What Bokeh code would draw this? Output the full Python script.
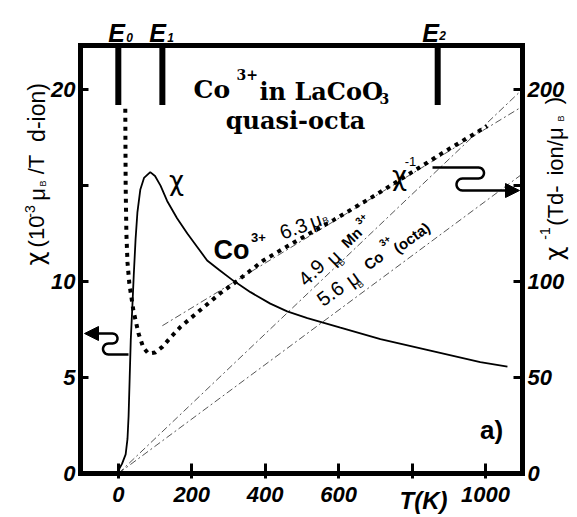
import numpy as np
from bokeh.plotting import figure
from bokeh.models import Range1d, LinearAxis, FixedTicker, Label, Arrow, NormalHead
from bokeh.embed import file_html
from bokeh.resources import INLINE

# ---------------- data ----------------
T_chi = [0, 3, 10, 20, 25, 28, 31, 34, 38, 42, 47, 52, 60, 70, 87, 100, 115, 133, 160, 188,
         215, 242, 275, 313, 360, 414, 460, 515, 605, 714, 850, 986, 1060]
chi = [0.0, 0.26, 0.5, 1.0, 1.8, 3.0, 5.0, 7.0, 8.6, 10.3, 12.2, 13.6, 14.8, 15.4, 15.7, 15.5,
       15.0, 14.2, 13.3, 12.5, 11.8, 11.1, 10.6, 10.05, 9.45, 8.85, 8.45, 8.1, 7.6, 7.0, 6.4,
       5.8, 5.57]

T_inv = [19, 20, 22, 25, 30, 41, 55, 68, 82, 100, 120, 142, 170, 215, 277, 318, 395, 488,
         586, 700, 800, 900, 1005]
chi_inv = [190, 150, 125, 110, 99, 85, 73, 65.6, 62.5, 63, 66, 70.8, 76.5, 83.8, 93.8, 99.5,
           111, 121.5, 132, 145, 157, 169, 181]

T_mn = [0, 1100]        # 4.9 muB Mn3+ Curie line
inv_mn = [0, 200]
T_co = [0, 1100]        # 5.6 muB Co3+ (octa) Curie line
inv_co = [0, 156]
T_cw = [120, 1090]      # 6.3 muB Co3+ Curie-Weiss line
inv_cw = [77, 190]

E_subs = ["0", "1", "2"]
E_T = [0, 120, 870]
E_bar_bottom = 19.2

x_ticks = [0, 200, 400, 600, 800, 1000]
x_labels = ["0", "200", "400", "600", "", "1000"]
yl_ticks = [0, 5, 10, 15, 20]
yl_labels = ["0", "5", "10", "", "20"]
yr_ticks = [0, 50, 100, 150, 200]
yr_labels = ["0", "50", "100", "", "200"]

# ---------------- layout ----------------
W, H = 575, 515
# axes box: data limits and where it sits on the page (pixels)
X_LEFT, X_RIGHT = -103, 1101
Y_BOT, Y_TOP = 0, 22.3
R_SCALE = 10.0                       # right axis = 10 x left axis
BOX_L, BOX_R, BOX_T, BOX_B = 80, 522, 45, 473

KX = (X_RIGHT - X_LEFT) / (BOX_R - BOX_L)
KY = (Y_TOP - Y_BOT) / (BOX_B - BOX_T)
xr = Range1d(X_LEFT - BOX_L * KX, X_RIGHT + (W - BOX_R) * KX)
yr_ = Range1d(Y_BOT - (H - BOX_B) * KY, Y_TOP + BOX_T * KY)

p = figure(width=W, height=H, x_range=xr, y_range=yr_,
           output_backend="svg", toolbar_location=None,
           x_axis_location=None, y_axis_location=None,
           min_border=0, min_border_left=0, min_border_right=0,
           min_border_top=0, min_border_bottom=0)
p.extra_y_ranges = {"inv": Range1d(yr_.start * R_SCALE, yr_.end * R_SCALE)}
p.grid.visible = False
p.outline_line_color = None
p.background_fill_color = "white"
p.border_fill_color = "white"

def dx(px):
    return X_LEFT + (px - BOX_L) * KX
def dy(py):
    return Y_BOT + (BOX_B - py) * KY

TICKFONT = "Liberation Sans"
def style_axis(ax):
    ax.axis_line_color = "black"
    ax.axis_line_width = 5
    ax.axis_line_cap = "square"
    ax.major_tick_line_color = "black"
    ax.major_tick_line_width = 3
    ax.minor_tick_line_color = None
    ax.major_label_text_font = TICKFONT
    ax.major_label_text_font_style = "bold italic"
    ax.major_label_text_font_size = "22px"
    ax.major_label_text_color = "black"

xa = LinearAxis(fixed_location=Y_BOT, bounds=(X_LEFT, X_RIGHT))
style_axis(xa)
xa.ticker = FixedTicker(ticks=x_ticks)
xa.major_label_overrides = {t: l for t, l in zip(x_ticks, x_labels)}
xa.major_tick_in = 10
xa.major_tick_out = 5
xa.major_label_standoff = 8
p.add_layout(xa, "below")

ta = LinearAxis(fixed_location=Y_TOP, bounds=(X_LEFT, X_RIGHT))
style_axis(ta)
ta.ticker = FixedTicker(ticks=[])
ta.major_tick_line_color = None
ta.major_label_text_font_size = "0px"
p.add_layout(ta, "above")

ya = LinearAxis(fixed_location=X_LEFT, bounds=(Y_BOT, Y_TOP))
style_axis(ya)
ya.ticker = FixedTicker(ticks=yl_ticks)
ya.major_label_overrides = {t: l for t, l in zip(yl_ticks, yl_labels)}
ya.major_tick_in = 8
ya.major_tick_out = 0
ya.major_label_standoff = 5
p.add_layout(ya, "left")

yb = LinearAxis(fixed_location=X_RIGHT, y_range_name="inv",
                bounds=(Y_BOT * R_SCALE, Y_TOP * R_SCALE))
style_axis(yb)
yb.ticker = FixedTicker(ticks=yr_ticks)
yb.major_label_overrides = {t: l for t, l in zip(yr_ticks, yr_labels)}
yb.major_tick_in = 9
yb.major_tick_out = 0
yb.major_label_standoff = 5
p.add_layout(yb, "right")

# ---------------- curves ----------------
DASHDOT = "7 3 2 3"
p.line(T_mn, inv_mn, y_range_name="inv", line_color="#555555", line_width=1, line_dash=DASHDOT)
p.line(T_co, inv_co, y_range_name="inv", line_color="#555555", line_width=1, line_dash=DASHDOT)
p.line(T_cw, inv_cw, y_range_name="inv", line_color="#555555", line_width=1, line_dash=DASHDOT)
p.line(T_chi, chi, line_color="black", line_width=1.8)
p.line(T_inv, chi_inv, y_range_name="inv", line_color="black", line_width=4,
       line_dash="4 5", line_cap="butt")

# energy markers
for t in E_T:
    p.segment(x0=[t], y0=[E_bar_bottom], x1=[t], y1=[Y_TOP], line_color="black", line_width=6)

# ---------------- text helper ----------------
def txt(px, py, s, size, font="Liberation Sans", style="normal", angle=0,
        align="center", baseline="middle"):
    p.add_layout(Label(x=dx(px), y=dy(py), text=s, text_font=font, text_font_style=style,
                       text_font_size=f"{size}px", angle=angle, angle_units="deg",
                       text_align=align, text_baseline=baseline, text_color="black"))

# E labels
for (ex, sx, sy), sub in zip([(116, 129, 37), (157, 170, 37), (430, 442, 35)], E_subs):
    txt(ex, 32, "E", 25, style="bold italic", baseline="alphabetic")
    txt(sx, sy, sub, 12, style="bold italic")

# title
SERIF = "DejaVu Serif"
txt(193, 89, "Co", 25, font=SERIF, style="bold", align="left", baseline="alphabetic")
txt(236, 74, "3+", 14, font=SERIF, style="bold", align="left", baseline="alphabetic")
txt(259, 91, "in LaCoO", 24, font=SERIF, style="bold", align="left", baseline="alphabetic")
txt(379, 98, "3", 14, font=SERIF, style="bold", align="left", baseline="alphabetic")
txt(295, 120, "quasi-octa", 24, font=SERIF, style="bold", baseline="alphabetic")

# left axis title (vertical)
txt(35, 258, "χ", 24, font="DejaVu Sans", angle=90)
txt(36, 231, "(10", 22, angle=90)
txt(29, 211, "-3", 14, angle=90)
txt(37, 194, "μ", 22, angle=90)
txt(42, 183, "B", 9, angle=90)
txt(36, 164, "/T", 22, angle=90)
txt(36, 112, "d-ion)", 23, angle=90)

# right axis title (vertical)
txt(554, 253, "χ", 24, font="DejaVu Sans", angle=90)
txt(544, 233, "-1", 14, angle=90)
txt(555, 205, "(Td-", 22, angle=90)
txt(555, 151, "ion/μ", 22, angle=90)
txt(560, 118, "B", 9, angle=90)
txt(553, 100, ")", 22, angle=90)

# T(K) and a)
txt(423, 500, "T(K)", 24, style="bold italic")
txt(491, 429, "a)", 26, style="bold")

# curve names
txt(176, 180, "χ", 26, font="DejaVu Sans")
txt(399, 175, "χ", 26, font="DejaVu Sans")
txt(410, 161, "-1", 13)

# Co3+ 6.3 muB
txt(231, 249, "Co", 27, style="bold")
txt(258, 237, "3+", 13, style="bold")
txt(293, 228, "6.3", 20, angle=20)
txt(315, 220, "μ", 20, angle=20)
txt(325, 220, "B", 9, angle=20)

# 4.9 muB Mn3+
txt(311, 272, "4.9", 20, angle=44)
txt(333, 257, "μ", 20, angle=44)
txt(341, 262, "B", 9, angle=44)
txt(351, 237, "Mn", 15, style="bold", angle=44)
txt(360, 218, "3+", 10, style="bold", angle=44)

# 5.6 muB Co3+ (octa)
txt(330, 293, "5.6", 20, angle=36)
txt(352, 278, "μ", 20, angle=36)
txt(360, 284, "B", 9, angle=36)
txt(373, 260, "Co", 15, style="bold", angle=36)
txt(384, 240, "3+", 10, style="bold", angle=36)
txt(411, 237, "(octa)", 15, style="bold", angle=36)

# ---------------- wavy arrows ----------------
def arc(cx, cy, r, a0, a1, n=14):
    a = np.radians(np.linspace(a0, a1, n))
    return list(zip(cx + r * np.cos(a), cy + r * np.sin(a)))

def draw_path(pts, tip):
    xs = [dx(x) for x, _ in pts]
    ys = [dy(y) for _, y in pts]
    p.line(xs, ys, line_color="black", line_width=2.5)
    p.add_layout(Arrow(x_start=xs[-1], y_start=ys[-1], x_end=dx(tip[0]), y_end=dy(tip[1]),
                       line_color="black", line_width=2.5,
                       end=NormalHead(size=14, fill_color="black", line_color="black")))

left_pts = [(128, 354)] + arc(108, 348.5, 5.5, 90, 270) + arc(112, 338, 5, 90, -90) + [(96, 333)]
draw_path(left_pts, (84, 333))
right_pts = [(432, 167)] + arc(478, 172.5, 5.5, -90, 90) + arc(462, 184, 6, -90, -270) + [(505, 190)]
draw_path(right_pts, (519, 190))

open("out.html", "w").write(file_html(p, INLINE))
